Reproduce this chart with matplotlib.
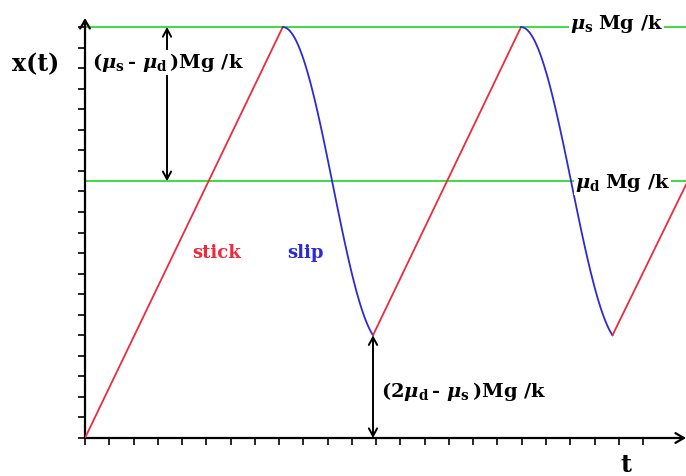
import numpy as np
import matplotlib
matplotlib.use("Agg")
import matplotlib.pyplot as plt

plt.rcParams["font.family"] = ["DejaVu Serif"]
plt.rcParams["font.weight"] = "bold"
plt.rcParams["mathtext.fontset"] = "custom"
plt.rcParams["mathtext.rm"] = "DejaVu Serif:bold"
plt.rcParams["mathtext.it"] = "DejaVu Serif:italic:bold"
plt.rcParams["mathtext.bf"] = "DejaVu Serif:bold"

# Force levels (in units of the tick spacing)
level_static = 20.0     # mu_s Mg / k
level_dynamic = 12.5    # mu_d Mg / k
level_min = 5.0         # (2 mu_d - mu_s) Mg / k

# Turning points of x(t) and the regime between consecutive points
turn_t = [0.0, 8.15, 11.87, 17.97, 21.74, 24.8]
turn_x = [0.0, 20.0, 5.0, 20.0, 5.0, 12.4]
phases = ["stick", "slip", "stick", "slip", "stick"]
slip_phase_end = 0.9    # fraction of a half oscillation covered by each slip

x_ticks = list(range(0, 24))
x_major = [0, 3, 8, 12, 18, 22]
y_ticks = list(range(0, 21))

RED = "#ee2a3c"
BLUE = "#2b2bd6"
GREEN = "#3fdc3f"

W, H = 686, 476
fig = plt.figure(figsize=(W / 100, H / 100), dpi=100)
left, right, bottom, top = 85, 686, 438, 18
ax = fig.add_axes([left / W, (H - bottom) / H, (right - left) / W, (bottom - top) / H])
ax.set_xlim(0, 24.77)
ax.set_ylim(0, 20.44)
for s in ax.spines.values():
    s.set_visible(False)

# Tick marks
ax.set_xticks(x_ticks)
ax.set_xticks(x_major, minor=True)
ax.set_yticks(y_ticks)
ax.tick_params(axis="both", which="major", direction="out", length=5, width=1.2,
               color="black", labelbottom=False, labelleft=False)
ax.tick_params(axis="x", which="minor", direction="out", length=8, width=1.2, color="black")

# Axes drawn as arrows
arrow_kw = dict(arrowstyle="->,head_length=0.6,head_width=0.35", lw=1.6, color="black",
                shrinkA=0, shrinkB=0)
ax.annotate("", xy=(0, 1), xytext=(0, 0), xycoords="axes fraction", arrowprops=arrow_kw,
            annotation_clip=False)
ax.annotate("", xy=(1.0, 0), xytext=(0, 0), xycoords="axes fraction", arrowprops=arrow_kw,
            annotation_clip=False)

# Friction thresholds
ax.axhline(level_static, color=GREEN, lw=1.4, zorder=1)
ax.axhline(level_dynamic, color=GREEN, lw=1.4, zorder=1)

# x(t): linear stick segments, cosine-shaped slip segments
th1 = slip_phase_end * np.pi
for i, ph in enumerate(phases):
    t0, t1 = turn_t[i], turn_t[i + 1]
    x0, x1 = turn_x[i], turn_x[i + 1]
    if ph == "stick":
        ax.plot([t0, t1], [x0, x1], color=RED, lw=1.3, zorder=3, solid_capstyle="round")
    else:
        tt = np.linspace(t0, t1, 100)
        amp = (x0 - x1) / (1 - np.cos(th1))
        centre = x0 - amp
        xx = centre + amp * np.cos(th1 * (tt - t0) / (t1 - t0))
        ax.plot(tt, xx, color=BLUE, lw=1.3, zorder=3)

# Double-headed dimension arrows
dim_kw = dict(arrowstyle="<->,head_length=0.55,head_width=0.3", lw=1.4, color="black",
              shrinkA=0, shrinkB=0)
ax.annotate("", xy=(3.38, level_static), xytext=(3.38, level_dynamic), arrowprops=dim_kw, zorder=4)
ax.annotate("", xy=(turn_t[2], turn_x[2]), xytext=(turn_t[2], 0), arrowprops=dim_kw, zorder=4)


def px(x, y):
    return x / W, 1 - y / H


fs = 14
white = dict(facecolor="white", edgecolor="none", pad=1.0)
fig.text(*px(12, 71), "x(t)", fontsize=17, ha="left", va="baseline")
fig.text(*px(92, 68), r"$(\mu_\mathrm{s}\,$- $\mu_\mathrm{d}\,)$Mg /k", fontsize=fs,
         ha="left", va="baseline", bbox=white, zorder=5)
fig.text(*px(570, 29), r"$\mu_\mathrm{s}\;$Mg /k", fontsize=fs, ha="left", va="baseline",
         bbox=white, zorder=5)
fig.text(*px(575, 188), r"$\mu_\mathrm{d}\;$Mg /k", fontsize=fs, ha="left", va="baseline",
         bbox=white, zorder=5)
fig.text(*px(381, 397), r"(2$\mu_\mathrm{d}\,$- $\mu_\mathrm{s}\,$)Mg /k", fontsize=fs,
         ha="left", va="baseline")
fig.text(*px(192, 258), "stick", fontsize=13, color=RED, ha="left", va="baseline")
fig.text(*px(287, 258), "slip", fontsize=13, color=BLUE, ha="left", va="baseline")
fig.text(*px(626, 472), "t", fontsize=17, ha="center", va="baseline")

fig.savefig("out.png", dpi=100)
